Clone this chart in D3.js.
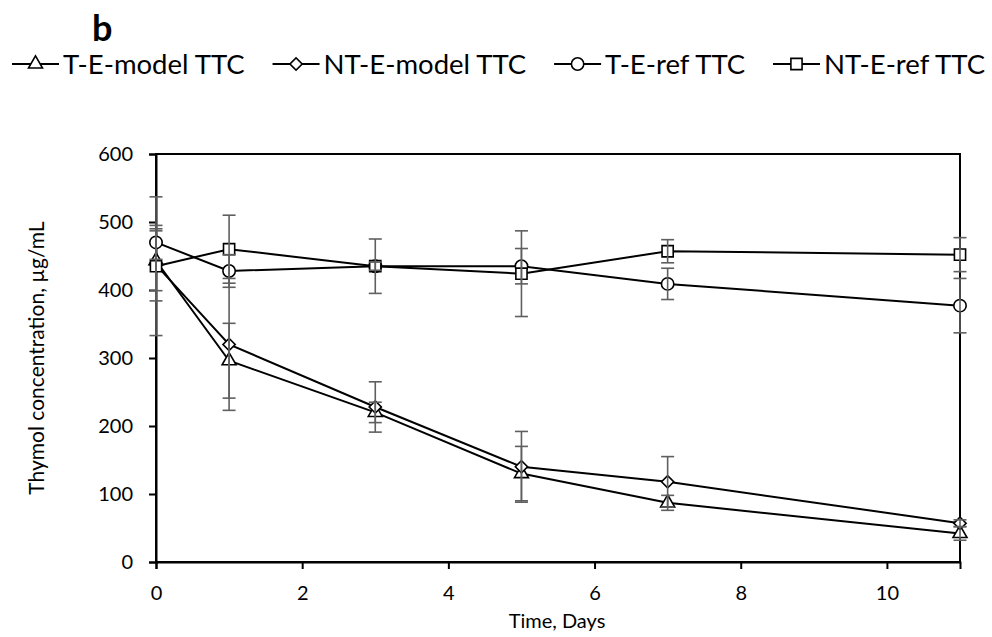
<!DOCTYPE html>
<html><head><meta charset="utf-8">
<script src="https://cdn.jsdelivr.net/npm/d3@7"></script>
<style>body{margin:0;background:#fff}svg{display:block}text{font-family:Lato,"Open Sans",sans-serif;fill:#000}</style>
</head><body>
<script>
const days = [0, 1, 3, 5, 7, 11];
const seriesNames = ["T-E-model TTC", "NT-E-model TTC", "T-E-ref TTC", "NT-E-ref TTC"];
const teModel = [443, 296, 220, 130, 87, 42];
const ntModel = [437, 320, 228, 140, 118, 57];
const teRef = [470, 428, 435, 435, 409, 377];
const ntRef = [435, 460, 435, 424, 457, 452];
const teModelErr = [44, 55, 15, 40, 11, 10];
const ntModelErr = [53, 97, 37, 52, 37, 5];
const teRefErr = [25, 24, 40, 26, 23, 40];
const ntRefErr = [102, 50, 6, 63, 17, 25];
const xTicks = [0, 2, 4, 6, 8, 10];
const yTicks = [0, 100, 200, 300, 400, 500, 600];

const W = 992, H = 637;
const svg = d3.select("body").append("svg").attr("width", W).attr("height", H);
const x = d3.scaleLinear().domain([0, 11]).range([156, 960]);
const y = d3.scaleLinear().domain([0, 600]).range([562, 154]);

const symbols = [
  d3.symbol().type(d3.symbolTriangle).size(85),
  d3.symbol().type(d3.symbolSquare).size(75),
  d3.symbol().type(d3.symbolCircle).size(120),
  d3.symbol().type(d3.symbolSquare).size(125)
];
const rot = [0, 45, 0, 0];
const data = [teModel, ntModel, teRef, ntRef];
const errs = [teModelErr, ntModelErr, teRefErr, ntRefErr];

// title
svg.append("text").attr("x", 92).attr("y", 41).style("font-size", "36px").style("font-weight", "bold").text("b");

// plot frame
svg.append("rect").attr("x", 156).attr("y", 154).attr("width", 804).attr("height", 408)
  .attr("fill", "none").attr("stroke", "#000").attr("stroke-width", 2);

// axes
const xAxis = d3.axisBottom(x).tickValues(xTicks).tickSize(7).tickPadding(17);
const gx = svg.append("g").attr("transform", "translate(0,562)").call(xAxis);
const yAxis = d3.axisLeft(y).tickValues(yTicks).tickSize(7).tickPadding(16);
const gy = svg.append("g").attr("transform", "translate(156,0)").call(yAxis);
[gx, gy].forEach(g => {
  g.attr("font-family", null).attr("font-size", null);
  g.select(".domain").attr("stroke", "#000").attr("stroke-width", 2);
  g.selectAll(".tick line").attr("stroke", "#000").attr("stroke-width", 2);
  g.selectAll(".tick text").style("font-size", "20px").attr("fill", "#000");
});

// axis titles
svg.append("text").attr("x", 557).attr("y", 628).attr("text-anchor", "middle").style("font-size", "20px").text("Time, Days");
svg.append("text").attr("transform", "translate(44,358) rotate(-90)").attr("text-anchor", "middle").style("font-size", "21px").text("Thymol concentration, µg/mL");

// lines
const line = d3.line().x((d, i) => x(days[i])).y(d => y(d));
data.forEach(vals => {
  svg.append("path").datum(vals).attr("d", line).attr("fill", "none").attr("stroke", "#000").attr("stroke-width", 2);
});

// markers
data.forEach((vals, s) => {
  svg.append("g").selectAll("path").data(vals).join("path")
    .attr("d", symbols[s]())
    .attr("transform", (d, i) => `translate(${x(days[i])},${y(d)}) rotate(${rot[s]})`)
    .attr("fill", "#fff").attr("stroke", "#000").attr("stroke-width", 1.6);
});

// error bars
data.forEach((vals, s) => {
  const g = svg.append("g").attr("stroke", "#5f5f5f").attr("stroke-width", 1.6);
  vals.forEach((v, i) => {
    const cx = x(days[i]), e = errs[s][i];
    g.append("line").attr("x1", cx).attr("x2", cx).attr("y1", y(v + e)).attr("y2", y(v - e));
    g.append("line").attr("x1", cx - 6.5).attr("x2", cx + 6.5).attr("y1", y(v + e)).attr("y2", y(v + e));
    g.append("line").attr("x1", cx - 6.5).attr("x2", cx + 6.5).attr("y1", y(v - e)).attr("y2", y(v - e));
  });
});

// legend: measure texts, then spread items between x=12 and x=985
const legendY = 64, lineLen = 47, textGap = 4, leftX = 12, rightX = 985;
const legend = svg.append("g");
const items = seriesNames.map((name, s) => {
  const g = legend.append("g");
  g.append("line").attr("x1", 0).attr("x2", lineLen).attr("y1", legendY).attr("y2", legendY).attr("stroke", "#000").attr("stroke-width", 1.8);
  g.append("path").attr("d", symbols[s]()).attr("transform", `translate(${lineLen / 2},${legendY}) rotate(${rot[s]})`)
    .attr("fill", "#fff").attr("stroke", "#000").attr("stroke-width", 1.6);
  const t = g.append("text").attr("x", lineLen + textGap).attr("y", legendY + 10).style("font-size", "27.5px").text(name);
  return {g, w: lineLen + textGap + t.node().getComputedTextLength()};
});
const totalW = d3.sum(items, d => d.w);
const gap = Math.max(4, (rightX - leftX - totalW) / (items.length - 1));
let cur = leftX;
items.forEach(it => { it.g.attr("transform", `translate(${cur},0)`); cur += it.w + gap; });
</script>
</body></html>
